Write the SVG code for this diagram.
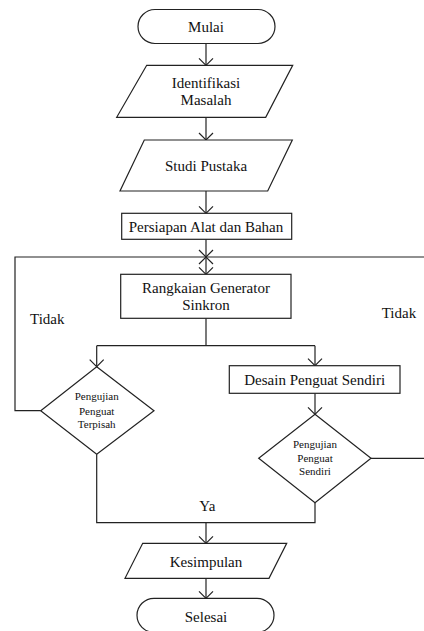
<svg xmlns="http://www.w3.org/2000/svg" width="424" height="631" viewBox="0 0 424 631">
<defs>
<style>
.s{fill:#fff;stroke:#222;stroke-width:1.2}
.c{fill:none;stroke:#222;stroke-width:1.2}
text{font-family:'Liberation Serif','DejaVu Serif',serif;fill:#111}
.t{font-size:15px;text-anchor:middle}
.sm{font-size:11px;text-anchor:middle}
.l{font-size:15px}
</style>
<marker id="ah" viewBox="-9 -8 10 16" refX="0" refY="0" markerWidth="10" markerHeight="16" markerUnits="userSpaceOnUse" orient="auto">
<path d="M-7,-7 L0,0 L-7,7" fill="none" stroke="#222" stroke-width="1.2"/>
</marker>
</defs>
<rect width="424" height="631" fill="#fff"/>
<g id="connectors">
<path class="c" d="M206,43.5 V65.3" marker-end="url(#ah)"/>
<path class="c" d="M206,117.3 V140" marker-end="url(#ah)"/>
<path class="c" d="M206,191 V213.3" marker-end="url(#ah)"/>
<path class="c" d="M206,239.3 V257" marker-end="url(#ah)"/>
<path class="c" d="M199,264 L206,257 L213,264"/>
<path class="c" d="M206,257 V274.3" marker-end="url(#ah)"/>
<path class="c" d="M206,318.3 V345.7 M96.7,345.7 H315"/>
<path class="c" d="M96.7,345.7 V366.7" marker-end="url(#ah)"/>
<path class="c" d="M315,345.7 V365.7" marker-end="url(#ah)"/>
<path class="c" d="M315,393.3 V414.3" marker-end="url(#ah)"/>
<path class="c" d="M40.7,410.7 H15 V257 H430"/>
<path class="c" d="M371,458.3 H430 V257"/>
<path class="c" d="M96.7,454.3 V522.7 H315 V502.7"/>
<path class="c" d="M206,522.7 V543.3" marker-end="url(#ah)"/>
<path class="c" d="M206,578.3 V598.3" marker-end="url(#ah)"/>
</g>
<g id="mulai">
<rect class="s" x="138" y="9.5" width="137" height="34" rx="17" ry="17"/>
<text class="t" x="206" y="31.5">Mulai</text>
</g>
<g id="identifikasi">
<polygon class="s" points="146.7,65.3 292.7,65.3 265.7,117.3 116.7,117.3"/>
<text class="t" x="206" y="87.5">Identifikasi</text>
<text class="t" x="206" y="105">Masalah</text>
</g>
<g id="studi">
<polygon class="s" points="144.3,140 292.3,140 267.7,191 120,191"/>
<text class="t" x="206" y="171">Studi Pustaka</text>
</g>
<g id="persiapan">
<rect class="s" x="121.7" y="213.3" width="170" height="26"/>
<text class="t" x="206" y="231.5">Persiapan Alat dan Bahan</text>
</g>
<g id="rangkaian">
<rect class="s" x="120.7" y="274.3" width="170.3" height="44"/>
<text class="t" x="206" y="292.7">Rangkaian Generator</text>
<text class="t" x="206" y="310">Sinkron</text>
</g>
<g id="tidak-kiri"><text class="l" x="30" y="324">Tidak</text></g>
<g id="tidak-kanan"><text class="l" x="381.7" y="318">Tidak</text></g>
<g id="uji-terpisah">
<polygon class="s" points="96.7,366.7 154,410.7 96.7,454.3 40.7,410.7"/>
<text class="sm" x="96.7" y="399.5">Pengujian</text>
<text class="sm" x="96.7" y="414.5">Penguat</text>
<text class="sm" x="96.7" y="428">Terpisah</text>
</g>
<g id="desain">
<rect class="s" x="229.3" y="365.7" width="170.7" height="27.6"/>
<text class="t" x="314.7" y="384.5">Desain Penguat Sendiri</text>
</g>
<g id="uji-sendiri">
<polygon class="s" points="315,414.3 371,458.3 315,502.7 258.7,458.3"/>
<text class="sm" x="315" y="447.7">Pengujian</text>
<text class="sm" x="315" y="462">Penguat</text>
<text class="sm" x="315" y="475.4">Sendiri</text>
</g>
<g id="ya"><text class="l" x="199.3" y="510.7">Ya</text></g>
<g id="kesimpulan">
<polygon class="s" points="142.7,543.3 286.7,543.3 269,578.3 125,578.3"/>
<text class="t" x="206" y="566.7">Kesimpulan</text>
</g>
<g id="selesai">
<rect class="s" x="137" y="598.3" width="137" height="34" rx="17" ry="17"/>
<text class="t" x="206" y="622.3">Selesai</text>
</g>
</svg>
